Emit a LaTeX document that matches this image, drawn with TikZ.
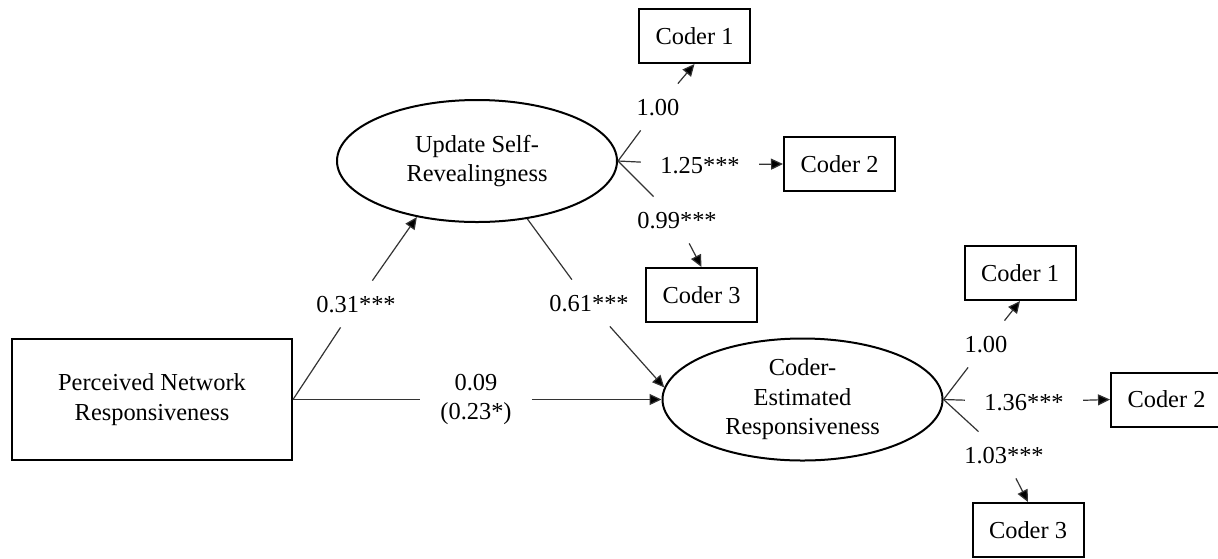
\documentclass[tikz,border=0pt]{standalone}
\usepackage{fontspec}
\setmainfont{Liberation Serif}
\usetikzlibrary{arrows.meta,shapes.geometric}

\begin{document}
\begin{tikzpicture}[x=0.5pt,y=-0.5pt,
  font=\fontsize{12.2}{14.7}\selectfont,
  observed/.style={draw, line width=1pt, minimum width=55.5pt, minimum height=27pt, inner sep=0pt},
  bigbox/.style={draw, line width=1pt, minimum width=140pt, minimum height=60.5pt, inner sep=0pt, align=center},
  latent/.style={ellipse, draw, line width=1pt, minimum width=140pt, minimum height=61pt, inner sep=0pt, align=center},
  coef/.style={inner xsep=9.5pt, inner ysep=7.5pt, text height=8pt, text depth=0pt},
  coef2/.style={inner xsep=10pt, inner ysep=4pt, align=center},
  link/.style={line width=0.6pt, draw=black!80},
  arrowlink/.style={link, -{Triangle[length=6pt,width=5.5pt,fill=black]}}
]
\useasboundingbox (0,0) rectangle (1218,558);
\fill[white] (0,0) rectangle (1218,558);

% constructs
\node[bigbox] (perc) at (152,399.5) {Perceived Network\\Responsiveness};
\node[latent] (upd) at (477,161) {Update Self-\\Revealingness};
\node[latent] (est) at (802.5,399.5) {Coder-\\Estimated\\Responsiveness};

% indicators of self-revealingness
\node[observed] (ua) at (694.5,36) {Coder 1};
\node[observed] (ub) at (839.5,164) {Coder 2};
\node[observed] (uc) at (701.5,295) {Coder 3};

% indicators of estimated responsiveness
\node[observed] (ea) at (1020,273) {Coder 1};
\node[observed] (eb) at (1166.5,399.5) {Coder 2};
\node[observed] (ec) at (1028,530) {Coder 3};

% path coefficients
\node[coef] (p031) at (356,304) {0.31***};
\node[coef] (p061) at (589,303) {0.61***};
\node[coef2] (p009) at (476,399.5) {0.09\\(0.23*)};

% loadings
\node[coef] (la) at (658,107) {1.00};
\node[coef] (lb) at (700,165) {1.25***};
\node[coef] (lc) at (677,220) {0.99***};
\node[coef] (ma) at (986,344) {1.00};
\node[coef] (mb) at (1024,402) {1.36***};
\node[coef] (mc) at (1004,455) {1.03***};

% structural paths
\draw[link] (perc.east) -- (p031);
\draw[arrowlink] (p031) -- (upd.223);
\draw[link] (upd.311) -- (p061);
\draw[arrowlink] (p061) -- (est.175);
\draw[link] (perc.east) -- (p009);
\draw[arrowlink] (p009) -- (est.west);

% measurement paths
\draw[link] (upd.east) -- (la);
\draw[arrowlink] (la) -- (ua.south);
\draw[link] (upd.east) -- (lb);
\draw[arrowlink] (lb) -- (ub.west);
\draw[link] (upd.east) -- (lc);
\draw[arrowlink] (lc) -- (uc.north);

\draw[link] (est.east) -- (ma);
\draw[arrowlink] (ma) -- (ea.south);
\draw[link] (est.east) -- (mb);
\draw[arrowlink] (mb) -- (eb.west);
\draw[link] (est.east) -- (mc);
\draw[arrowlink] (mc) -- (ec.north);
\end{tikzpicture}
\end{document}
